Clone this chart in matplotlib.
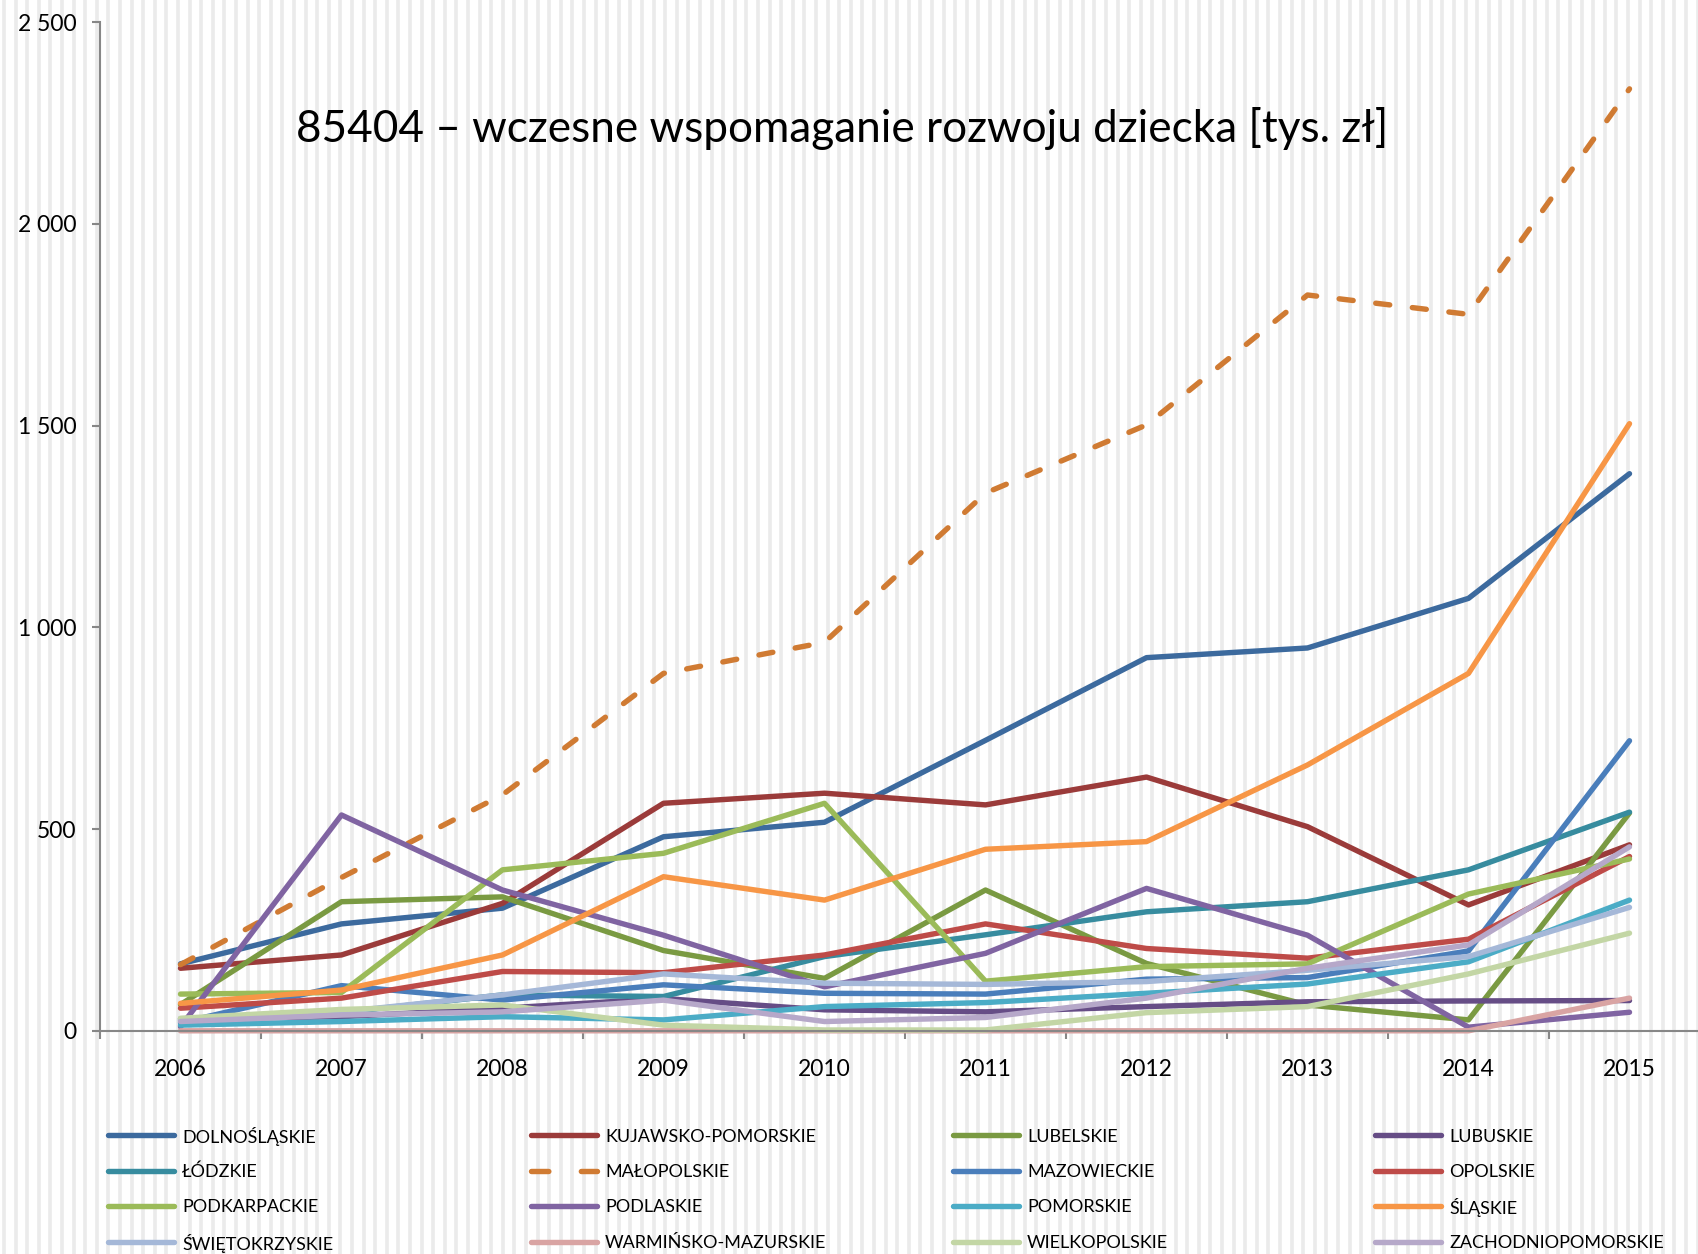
import numpy as np
import matplotlib.pyplot as plt
from matplotlib.lines import Line2D
from matplotlib.ticker import FixedLocator, FuncFormatter

plt.rcParams['font.family'] = ['Lato', 'DejaVu Sans']

#%%
""" data [tys. zl] """
years = ['2006', '2007', '2008', '2009', '2010', '2011', '2012', '2013', '2014', '2015']

dolnoslaskie = [166, 265, 304, 481, 517, 720, 925, 949, 1072, 1381]
kujawsko_pomorskie = [155, 188, 316, 564, 589, 560, 629, 506, 312, 461]
lubelskie = [65, 320, 332, 199, 130, 349, 167, 64, 27, 540]
lubuskie = [30, 35, 56, 80, 52, 47, 60, 72, 74, 75]
lodzkie = [27, 45, 89, 85, 184, 238, 295, 320, 399, 542]
malopolskie = [164, 380, 585, 886, 963, 1333, 1502, 1824, 1776, 2335]
mazowieckie = [20, 112, 76, 114, 93, 91, 128, 132, 198, 719]
opolskie = [56, 81, 147, 144, 188, 265, 204, 180, 227, 432]
podkarpackie = [91, 95, 399, 440, 564, 123, 159, 166, 339, 426]
podlaskie = [10, 535, 349, 237, 109, 192, 353, 237, 9, 46]
pomorskie = [14, 23, 35, 27, 60, 70, 93, 116, 171, 324]
slaskie = [68, 101, 188, 382, 324, 450, 469, 659, 886, 1505]
swietokrzyskie = [25, 47, 89, 141, 118, 115, 122, 150, 184, 306]
warminsko_mazurskie = [0, 0, 0, 0, 0, 0, 0, 0, 0, 81]
wielkopolskie = [31, 53, 64, 14, 2, 2, 45, 60, 141, 242]
zachodniopomorskie = [23, 39, 47, 76, 23, 33, 81, 155, 213, 456]

names = ['DOLNOŚLĄSKIE', 'KUJAWSKO-POMORSKIE', 'LUBELSKIE', 'LUBUSKIE',
         'ŁÓDZKIE', 'MAŁOPOLSKIE', 'MAZOWIECKIE', 'OPOLSKIE',
         'PODKARPACKIE', 'PODLASKIE', 'POMORSKIE', 'ŚLĄSKIE',
         'ŚWIĘTOKRZYSKIE', 'WARMIŃSKO-MAZURSKIE', 'WIELKOPOLSKIE', 'ZACHODNIOPOMORSKIE']
series = [dolnoslaskie, kujawsko_pomorskie, lubelskie, lubuskie,
          lodzkie, malopolskie, mazowieckie, opolskie,
          podkarpackie, podlaskie, pomorskie, slaskie,
          swietokrzyskie, warminsko_mazurskie, wielkopolskie, zachodniopomorskie]
colors = ['#3C6A9E', '#9B3B3A', '#7A9A42', '#664D86',
          '#378C9F', '#D07B33', '#4A7EBB', '#BE4B48',
          '#9BBB59', '#8064A2', '#4BACC6', '#F79646',
          '#A5B8D8', '#D9A4A3', '#C3D6A5', '#B6A8C9']

#%%
""" figure with the striped background """
W, H = 1699, 1254
fig = plt.figure(figsize=(W / 100, H / 100), dpi=100, facecolor='white')

bg = fig.add_axes([0, 0, 1, 1], zorder=-10)
bg.set_xlim(0, W)
bg.set_ylim(0, H)
bg.axis('off')
for xs in np.arange(4, W, 11.6):
    bg.axvline(xs, color='#EBEBEB', lw=2.6)

ax = fig.add_axes([100 / W, (H - 1030.8) / H, 1610 / W, 1008.5 / H])
ax.patch.set_alpha(0)

LW = 3.9
DASH = (2.6, 4.2)
x = np.arange(len(years))
for name, vals, c in zip(names, series, colors):
    ls = '--' if name == 'MAŁOPOLSKIE' else '-'
    line, = ax.plot(x, vals, color=c, lw=LW, ls=ls, label=name, clip_on=False,
                    solid_capstyle='round', solid_joinstyle='round',
                    dash_capstyle='round')
    if ls == '--':
        line.set_dashes(DASH)

ax.set_xlim(-0.5, 9.5)
ax.set_ylim(0, 2500)

for s in ['top', 'right']:
    ax.spines[s].set_visible(False)
for s in ['left', 'bottom']:
    ax.spines[s].set_color('#878787')
    ax.spines[s].set_linewidth(1.5)

ax.set_yticks([0, 500, 1000, 1500, 2000, 2500])
ax.yaxis.set_major_formatter(FuncFormatter(lambda v, p: f"{int(v):,}".replace(',', ' ')))
ax.tick_params(axis='y', length=6, width=1.5, color='#878787', pad=11, labelsize=16.5)

ax.set_xticks(x)
ax.set_xticklabels(years)
ax.xaxis.set_minor_locator(FixedLocator(np.arange(-0.5, 10, 1)))
ax.tick_params(axis='x', which='major', length=0, pad=20, labelsize=16.5)
ax.tick_params(axis='x', which='minor', length=6, width=1.5, color='#878787')

fig.text(842 / W, 1 - 128 / H, "85404 – wczesne wspomaganie rozwoju dziecka [tys. zł]",
         ha='center', va='center', fontsize=31.8)

#%%
""" legend: 4 columns x 4 rows on a fixed grid """
col_x = [105, 528, 950, 1372]
row_y = [1135, 1170.5, 1206, 1242]
for i, (name, c) in enumerate(zip(names, colors)):
    r, k = divmod(i, 4)
    x0, y0 = col_x[k], H - row_y[r]
    key = Line2D([x0 + 3, x0 + 69], [y0, y0], transform=bg.transData, color=c,
                 lw=LW, solid_capstyle='round', dash_capstyle='round')
    if name == 'MAŁOPOLSKIE':
        key.set_dashes((3.2, 6.0))
    bg.add_artist(key)
    bg.text(x0 + 77, y0, name, fontsize=13, va='center_baseline', ha='left')

fig.savefig('out.png', dpi=100)
